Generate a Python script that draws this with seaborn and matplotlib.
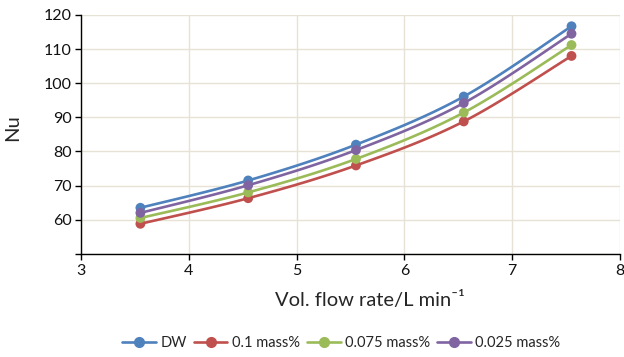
import numpy as np
import pandas as pd
import seaborn as sns
import matplotlib
matplotlib.use("Agg")
import matplotlib.pyplot as plt
from matplotlib.lines import Line2D

flow = [3.55, 4.55, 5.55, 6.55, 7.55]
dw = [63.5, 71.5, 82.0, 96.1, 116.7]
m01 = [58.8, 66.3, 75.9, 88.8, 108.0]
m0075 = [60.5, 68.0, 77.8, 91.4, 111.2]
m0025 = [62.0, 70.1, 80.4, 94.2, 114.5]
series_names = ["DW", "0.1 mass%", "0.075 mass%", "0.025 mass%"]
colors = ["#4F81BD", "#C0504D", "#9BBB59", "#8064A2"]

sns.set_style("white")
plt.rcParams['font.family'] = ['Lato', 'DejaVu Sans']

def smooth(x, y, n=30):
    # Catmull-Rom style bezier smoothing (as spreadsheet "smoothed line")
    x = np.asarray(x, float); y = np.asarray(y, float)
    px, py = [], []
    for i in range(len(x) - 1):
        x0, y0 = (x[i-1], y[i-1]) if i > 0 else (x[i], y[i])
        x3, y3 = (x[i+2], y[i+2]) if i + 2 < len(x) else (x[i+1], y[i+1])
        x1, y1, x2, y2 = x[i], y[i], x[i+1], y[i+1]
        c1x, c1y = x1 + (x2 - x0) / 6, y1 + (y2 - y0) / 6
        c2x, c2y = x2 - (x3 - x1) / 6, y2 - (y3 - y1) / 6
        t = np.linspace(0, 1, n)
        bx = (1-t)**3*x1 + 3*(1-t)**2*t*c1x + 3*(1-t)*t**2*c2x + t**3*x2
        by = (1-t)**3*y1 + 3*(1-t)**2*t*c1y + 3*(1-t)*t**2*c2y + t**3*y2
        px.extend(bx); py.extend(by)
    return np.array(px), np.array(py)

fig = plt.figure(figsize=(6.24, 3.57), dpi=100)
ax = fig.add_axes([0.13, 0.289, 0.8636, 0.669])

rows = []
for name, vals in zip(series_names, [dw, m01, m0075, m0025]):
    sx, sy = smooth(flow, vals)
    rows.append(pd.DataFrame({"x": sx, "y": sy, "s": name, "o": np.arange(len(sx))}))
smooth_df = pd.concat(rows)
pts = pd.DataFrame({"x": flow * 4, "y": dw + m01 + m0075 + m0025,
                    "s": sum([[n] * len(flow) for n in series_names], [])})

pal = dict(zip(series_names, colors))
sns.lineplot(data=smooth_df, x="x", y="y", hue="s", units="s", estimator=None,
             sort=False, palette=pal, linewidth=1.9, legend=False, ax=ax, zorder=2)
sns.scatterplot(data=pts, x="x", y="y", hue="s", palette=pal, s=50, linewidth=0,
                legend=False, ax=ax, zorder=3)

ax.set_xlim(3, 8)
ax.set_ylim(50, 120)
ax.set_xticks([3, 4, 5, 6, 7, 8])
ax.set_yticks([50, 60, 70, 80, 90, 100, 110, 120])
ax.set_yticklabels(["", "60", "70", "80", "90", "100", "110", "120"])
ax.grid(True, color="#E6E2D6", linewidth=1.0)
ax.set_axisbelow(True)
for s in ["top", "right"]:
    ax.spines[s].set_visible(False)
for s in ["left", "bottom"]:
    ax.spines[s].set_color("black")
    ax.spines[s].set_linewidth(1.0)
ax.tick_params(axis="both", which="both", direction="out", length=4, width=1,
               color="black", labelsize=11.5, labelcolor="#111111", pad=3, left=True, bottom=True)
ax.set_xlabel("Vol. flow rate/L min\u207b\u00b9", fontsize=14.5)
ax.xaxis.set_label_coords(0.536, -0.155)
ax.set_ylabel("Nu", fontsize=14.5)
ax.yaxis.set_label_coords(-0.112, 0.53)

handles = [Line2D([0], [0], color=c, lw=1.9, marker="o", markersize=7) for c in colors]
fig.legend(handles, series_names, loc="center", bbox_to_anchor=(0.547, 0.039), ncol=4,
           frameon=False, fontsize=10.5, handlelength=2.3, columnspacing=0.5, handletextpad=0.3)

fig.savefig("out.png", dpi=100)
